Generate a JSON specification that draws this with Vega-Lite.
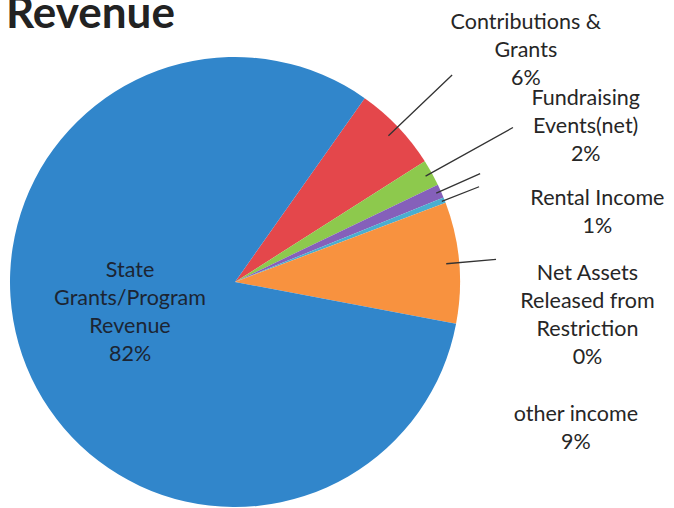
{
  "$schema": "https://vega.github.io/schema/vega-lite/v6.json",
  "width": 470,
  "height": 452,
  "autosize": {"type": "none"},
  "padding": {"left": 0, "top": 56, "right": 204, "bottom": 0},
  "background": "white",
  "title": {"text": "Revenue", "anchor": "start", "frame": "group", "orient": "top", "baseline": "alphabetic", "offset": -60, "dx": 6, "font": "Lato", "fontSize": 44, "fontWeight": "bold", "color": "#222222"},
  "config": {"view": {"stroke": null}},
  "data": {"values": [
    {"category": "Contributions & Grants", "value": 6.2, "order": 1, "label": ["Contributions &", "Grants", "6%"]},
    {"category": "Fundraising Events(net)", "value": 1.9, "order": 2, "label": ["Fundraising", "Events(net)", "2%"]},
    {"category": "Rental Income", "value": 1.0, "order": 3, "label": ["Rental Income", "1%"]},
    {"category": "Net Assets Released from Restriction", "value": 0.4, "order": 4, "label": ["Net Assets", "Released from", "Restriction", "0%"]},
    {"category": "other income", "value": 8.7, "order": 5, "label": ["other income", "9%"]},
    {"category": "State Grants/Program Revenue", "value": 81.8, "order": 6, "label": ["State", "Grants/Program", "Revenue", "82%"]}
  ]},
  "encoding": {
    "theta": {"field": "value", "type": "quantitative", "stack": true, "scale": {"range": [0.6144, 6.8976]}},
    "order": {"field": "order", "type": "quantitative"}
  },
  "layer": [
    {
      "mark": {"type": "arc", "radius": 225},
      "encoding": {
        "color": {"field": "category", "type": "nominal", "legend": null,
          "scale": {
            "domain": ["Contributions & Grants", "Fundraising Events(net)", "Rental Income", "Net Assets Released from Restriction", "other income", "State Grants/Program Revenue"],
            "range": ["#e4474b", "#8dc94d", "#8560ba", "#4aaed0", "#f8923f", "#3186cb"]
          }
        }
      }
    },
    {
      "transform": [{"filter": "datum.order <= 1"}],
      "mark": {"type": "arc", "filled": false, "stroke": "#333333", "strokeWidth": 1.3, "radius": 300, "radius2": 212, "padAngle": 1},
      "encoding": {"strokeOpacity": {"condition": {"test": "datum.order === 1", "value": 1}, "value": 0}}
    },
    {
      "transform": [{"filter": "datum.order <= 2"}],
      "mark": {"type": "arc", "filled": false, "stroke": "#333333", "strokeWidth": 1.3, "radius": 318, "radius2": 218, "padAngle": 1},
      "encoding": {"strokeOpacity": {"condition": {"test": "datum.order === 2", "value": 1}, "value": 0}}
    },
    {
      "transform": [{"filter": "datum.order <= 3"}],
      "mark": {"type": "arc", "filled": false, "stroke": "#333333", "strokeWidth": 1.3, "radius": 268, "radius2": 220, "padAngle": 1},
      "encoding": {"strokeOpacity": {"condition": {"test": "datum.order === 3", "value": 1}, "value": 0}}
    },
    {
      "transform": [{"filter": "datum.order <= 4"}],
      "mark": {"type": "arc", "filled": false, "stroke": "#333333", "strokeWidth": 1.3, "radius": 262, "radius2": 222, "padAngle": 1},
      "encoding": {"strokeOpacity": {"condition": {"test": "datum.order === 4", "value": 1}, "value": 0}}
    },
    {
      "transform": [{"filter": "datum.order <= 5"}],
      "mark": {"type": "arc", "filled": false, "stroke": "#333333", "strokeWidth": 1.3, "radius": 262, "radius2": 212, "padAngle": 1},
      "encoding": {"strokeOpacity": {"condition": {"test": "datum.order === 5", "value": 1}, "value": 0}}
    },
    {
      "transform": [{"filter": "datum.order <= 1"}],
      "mark": {"type": "text", "font": "Lato", "fontSize": 21.5, "lineHeight": 28, "align": "center", "baseline": "middle", "fill": "#262626", "radius": 330, "dx": 52, "dy": -31},
      "encoding": {"text": {"condition": {"test": "datum.order === 1", "field": "label"}, "value": ""}}
    },
    {
      "transform": [{"filter": "datum.order <= 2"}],
      "mark": {"type": "text", "font": "Lato", "fontSize": 21.5, "lineHeight": 28, "align": "center", "baseline": "middle", "fill": "#262626", "radius": 320, "dx": 71, "dy": -28},
      "encoding": {"text": {"condition": {"test": "datum.order === 2", "field": "label"}, "value": ""}}
    },
    {
      "transform": [{"filter": "datum.order <= 3"}],
      "mark": {"type": "text", "font": "Lato", "fontSize": 21.5, "lineHeight": 28, "align": "center", "baseline": "middle", "fill": "#262626", "radius": 300, "dx": 88, "dy": 38},
      "encoding": {"text": {"condition": {"test": "datum.order === 3", "field": "label"}, "value": ""}}
    },
    {
      "transform": [{"filter": "datum.order <= 4"}],
      "mark": {"type": "text", "font": "Lato", "fontSize": 21.5, "lineHeight": 28, "align": "center", "baseline": "middle", "fill": "#262626", "radius": 300, "dx": 73, "dy": 101},
      "encoding": {"text": {"condition": {"test": "datum.order === 4", "field": "label"}, "value": ""}}
    },
    {
      "transform": [{"filter": "datum.order <= 5"}],
      "mark": {"type": "text", "font": "Lato", "fontSize": 21.5, "lineHeight": 28, "align": "center", "baseline": "middle", "fill": "#262626", "radius": 300, "dx": 42, "dy": 159},
      "encoding": {"text": {"condition": {"test": "datum.order === 5", "field": "label"}, "value": ""}}
    },
    {
      "mark": {"type": "text", "font": "Lato", "fontSize": 21.5, "lineHeight": 28, "align": "center", "baseline": "middle", "fill": "#1c2533", "radius": 110, "dx": -3, "dy": -52},
      "encoding": {"text": {"condition": {"test": "datum.order === 6", "field": "label"}, "value": ""}}
    }
  ]
}
